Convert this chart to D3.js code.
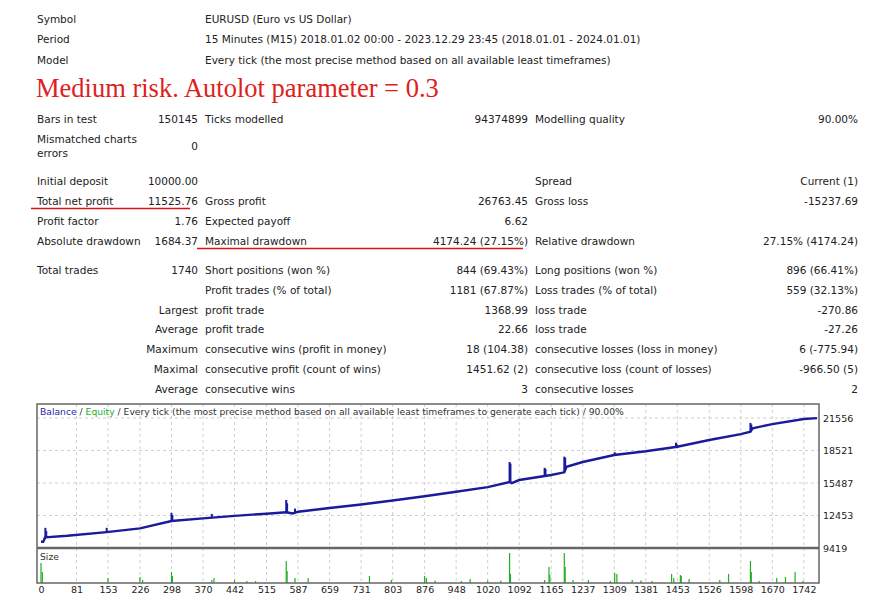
<!DOCTYPE html>
<html><head><meta charset="utf-8">
<script src="https://cdn.jsdelivr.net/npm/d3@7"></script>
<style>body{margin:0;background:#fff}svg{display:block}</style>
</head><body>
<svg id="c" width="883" height="600"></svg>
<script>
const header = [["Symbol","EURUSD (Euro vs US Dollar)"],["Period","15 Minutes (M15) 2018.01.02 00:00 - 2023.12.29 23:45 (2018.01.01 - 2024.01.01)"],["Model","Every tick (the most precise method based on all available least timeframes)"]];
const title = "Medium risk. Autolot parameter = 0.3";
const stats = [
 [120,"Bars in test","150145","Ticks modelled","94374899","Modelling quality","90.00%"],
 [182,"Initial deposit","10000.00","","","Spread","Current (1)"],
 [202,"Total net profit","11525.76","Gross profit","26763.45","Gross loss","-15237.69"],
 [222,"Profit factor","1.76","Expected payoff","6.62","",""],
 [242,"Absolute drawdown","1684.37","Maximal drawdown","4174.24 (27.15%)","Relative drawdown","27.15% (4174.24)"],
 [271,"Total trades","1740","Short positions (won %)","844 (69.43%)","Long positions (won %)","896 (66.41%)"],
 [291,"","","Profit trades (% of total)","1181 (67.87%)","Loss trades (% of total)","559 (32.13%)"],
 [311,"","Largest","profit trade","1368.99","loss trade","-270.86"],
 [330,"","Average","profit trade","22.66","loss trade","-27.26"],
 [350,"","Maximum","consecutive wins (profit in money)","18 (104.38)","consecutive losses (loss in money)","6 (-775.94)"],
 [370,"","Maximal","consecutive profit (count of wins)","1451.62 (2)","consecutive loss (count of losses)","-966.50 (5)"],
 [390,"","Average","consecutive wins","3","consecutive losses","2"]
];
const yTicks = [9419,12453,15487,18521,21556];
const xTicks = [0,81,153,226,298,370,442,515,587,659,731,803,876,948,1020,1092,1165,1237,1309,1381,1453,1526,1598,1670,1742];
const balance = [[0,10000],[5,10000],[10,10420],[60,10560],[150,10900],[226,11250],[298,11940],[370,12180],[442,12420],[515,12620],[560,12760],[575,12640],[587,12808],[659,13150],[731,13480],[803,13850],[876,14250],[948,14675],[1020,15100],[1070,15580],[1075,15480],[1092,15766],[1165,16234],[1195,16485],[1200,17000],[1237,17450],[1309,18100],[1381,18450],[1453,18876],[1526,19500],[1598,20050],[1620,20273],[1625,20600],[1670,20980],[1742,21463],[1772,21540]];
const spikes = [[8,10400],[10,11300],[12,11000],[150,11300],[298,12700],[300,12500],[390,12600],[560,13900],[562,13600],[580,13100],[1070,17450],[1072,17300],[1150,16900],[1152,16800],[1195,17950],[1197,17850],[1310,18350],[1312,18250],[1450,19250],[1452,19100],[1540,19700],[1620,21100],[1622,20950],[1700,21150],[1722,21350]];
const sizes = [[0,1.0],[3,0.55],[153,0.25],[226,0.3],[232,0.15],[298,0.55],[300,0.35],[390,0.15],[395,0.25],[442,0.15],[470,0.1],[490,0.1],[560,1.1],[562,0.6],[580,0.25],[610,0.25],[750,0.35],[800,0.15],[876,0.35],[880,0.25],[900,0.12],[960,0.1],[980,0.2],[1020,0.12],[1050,0.12],[1070,1.5],[1072,0.45],[1150,0.15],[1160,0.8],[1162,0.4],[1195,1.5],[1197,0.8],[1215,0.15],[1250,0.15],[1300,0.1],[1310,0.5],[1315,0.45],[1350,0.15],[1370,0.12],[1395,0.1],[1440,0.45],[1445,0.25],[1460,0.4],[1462,0.35],[1480,0.2],[1550,0.15],[1570,0.45],[1620,1.1],[1622,0.55],[1640,0.1],[1680,0.25],[1700,0.3],[1722,0.55],[1740,0.1]];

const svg = d3.select("#c");
const F = "Tahoma, 'DejaVu Sans', sans-serif";
const txt = (x,y,s,anchor) => svg.append("text").attr("x",x).attr("y",y).attr("text-anchor",anchor||"start")
  .attr("dominant-baseline","middle").attr("font-family",F).attr("font-size",10.5).attr("fill","#222").text(s);

header.forEach((h,i)=>{const y=19.5+i*20.5; txt(37,y,h[0]); txt(205,y,h[1]);});
svg.append("text").attr("x",36).attr("y",97).attr("font-family","'Liberation Serif', 'Times New Roman', serif")
  .attr("font-size",26.5).attr("fill","#e0201c").text(title);
stats.forEach(r=>{
  const y=r[0];
  if(r[1]) txt(37,y,r[1]);
  if(r[2]) txt(198,y,r[2],"end");
  if(r[3]) txt(205,y,r[3]);
  if(r[4]) txt(528,y,r[4],"end");
  if(r[5]) txt(535,y,r[5]);
  if(r[6]) txt(858,y,r[6],"end");
});
txt(37,140,"Mismatched charts"); txt(37,154,"errors"); txt(198,147,"0","end");
svg.append("line").attr("x1",31).attr("x2",190).attr("y1",208.5).attr("y2",208.5).attr("stroke","#d9141a").attr("stroke-width",1.5);
svg.append("line").attr("x1",197).attr("x2",523).attr("y1",248.5).attr("y2",248.5).attr("stroke","#d9141a").attr("stroke-width",1.5);

const L=37,R=819,T=404,M=548,B=583;
const x = d3.scaleLinear().domain([0,1772]).range([41,817]);
const y = d3.scaleLinear().domain([9419,21556]).range([548,418]);
const ys = d3.scaleLinear().domain([0,1.5]).range([B,553]);
svg.append("rect").attr("x",L).attr("y",T).attr("width",R-L).attr("height",B-T).attr("fill","#fff");
const grid = svg.append("g").attr("stroke","#cfcfcf").attr("stroke-dasharray","3,3").attr("stroke-width",1);
xTicks.forEach(t=>{ if(t>0) grid.append("line").attr("x1",x(t)).attr("x2",x(t)).attr("y1",T).attr("y2",B);});
yTicks.slice(1).forEach(t=>grid.append("line").attr("x1",L).attr("x2",R).attr("y1",y(t)).attr("y2",y(t)));
svg.append("g").selectAll("line").data(sizes).join("line")
  .attr("x1",d=>x(d[0])).attr("x2",d=>x(d[0])).attr("y1",B).attr("y2",d=>ys(d[1]))
  .attr("stroke","#22b022").attr("stroke-width",1.2);
const line = d3.line().x(d=>x(d[0])).y(d=>y(d[1]));
const interp = t => {const i=d3.bisector(b=>b[0]).left(balance,t);const a=balance[Math.max(0,i-1)],b=balance[Math.min(balance.length-1,i)];return b[0]===a[0]?a[1]:a[1]+(b[1]-a[1])*(t-a[0])/(b[0]-a[0]);};
svg.append("g").selectAll("line").data(spikes).join("line")
  .attr("x1",d=>x(d[0])).attr("x2",d=>x(d[0]))
  .attr("y1",d=>y(interp(d[0]))).attr("y2",d=>y(d[1])).attr("stroke","#1a1aa0").attr("stroke-width",2);
svg.append("path").datum(balance).attr("fill","none").attr("stroke","#1a1a9a").attr("stroke-width",2.4).attr("d",line);
svg.append("rect").attr("x",L).attr("y",T).attr("width",R-L).attr("height",B-T).attr("fill","none").attr("stroke","#666").attr("stroke-width",1.5);
svg.append("line").attr("x1",L).attr("x2",R).attr("y1",M).attr("y2",M).attr("stroke","#666").attr("stroke-width",2.5);
const lg = svg.append("text").attr("x",40).attr("y",412).attr("dominant-baseline","middle").attr("font-family",F).attr("font-size",9.2);
lg.append("tspan").attr("fill","#2626a8").text("Balance");
lg.append("tspan").attr("fill","#333").text(" / ");
lg.append("tspan").attr("fill","#22b022").text("Equity");
lg.append("tspan").attr("fill","#333").text(" / Every tick (the most precise method based on all available least timeframes to generate each tick) / 90.00%");
svg.append("text").attr("x",40).attr("y",557).attr("dominant-baseline","middle").attr("font-family",F).attr("font-size",9.2).attr("fill","#333").text("Size");
const ya = svg.append("g").attr("transform",`translate(${R},0)`).call(d3.axisRight(y).tickValues(yTicks).tickSize(0).tickPadding(4).tickFormat(d3.format("d")));
ya.select(".domain").remove();
ya.selectAll("text").attr("font-family",F).attr("font-size",9.5).attr("fill","#222");
const xa = svg.append("g").attr("transform",`translate(0,${B})`).call(d3.axisBottom(x).tickValues(xTicks).tickSize(0).tickPadding(3).tickFormat(d3.format("d")));
xa.select(".domain").remove();
xa.selectAll("text").attr("font-family",F).attr("font-size",9.5).attr("fill","#222");
</script>
</body></html>
